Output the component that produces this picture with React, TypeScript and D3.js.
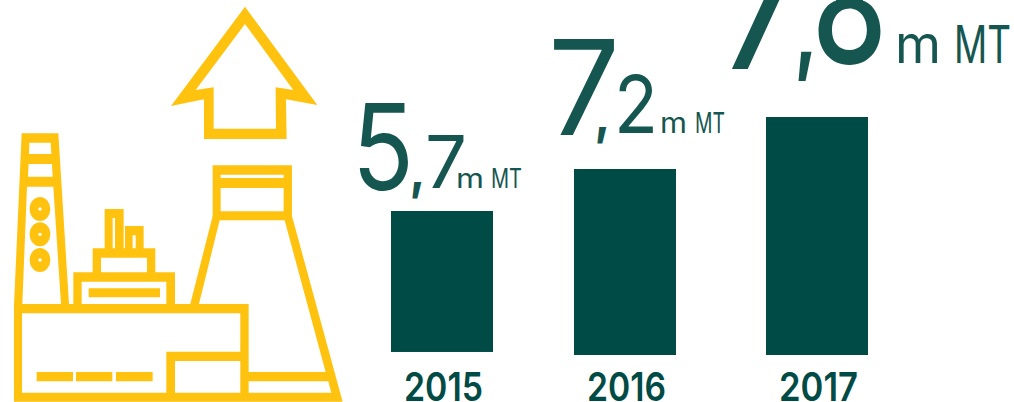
import React from "react";
import * as d3 from "d3";

const categories = ["2015", "2016", "2017"];
const values = [5.7, 7.2, 7.8];
const barBase = [0.12, 0, 0];
const unitLabel = "m MT";

const GREEN = "#004b45";
const TEXT = "#155651";
const YELLOW = "#ffc20e";
const FONT = "Inter, sans-serif";

// the bars in the source are not to a common scale, so the scale is piecewise
const y = d3.scaleLinear().domain([0, 5.7, 7.2, 7.8]).range([355, 211, 169, 117]);
const x = d3.scaleOrdinal<string, number>().domain(categories).range([391, 574, 766]);
const BAR_W = 102;

const fmt = (v: number) => v.toFixed(1).split(".");

const poly = (p: number[]) =>
  "M" + d3.range(0, p.length, 2).map((i) => `${p[i]},${p[i + 1]}`).join("L") + "Z";
const rect = (a: number, b: number, c: number, d: number) => poly([a, b, c, b, c, d, a, d]);

const arrowPath =
  poly([735, 20, 952, 315, 858, 298, 860, 417, 612, 417, 612, 298, 513, 318]) +
  poly([735, 72, 880, 270, 827, 262, 828, 386, 641, 386, 641, 262, 587, 270]);

const plantPath = [
  poly([42, 1205, 42, 915, 65, 400, 175, 400, 207, 912, 220, 912, 220, 817, 278, 817, 278, 745, 314, 745, 314, 627, 371, 627, 371, 745, 375, 745, 375, 678, 431, 678, 431, 745, 466, 745, 466, 817, 525, 817, 525, 912, 571, 912, 638, 648, 638, 496, 876, 496, 876, 648, 1028, 1205]),
  poly([88, 428, 152, 428, 154, 462, 87, 462]),
  poly([86, 492, 156, 492, 158, 530, 84, 530]),
  poly([81, 560, 160, 560, 183, 912, 67, 912]),
  rect(245, 845, 499, 912),
  rect(303, 773, 441, 817),
  rect(338, 654, 345, 745),
  rect(398, 706, 407, 745),
  rect(662, 524, 851, 534),
  rect(662, 564, 851, 634),
  poly([659, 661, 854, 661, 977, 1116, 746, 1116, 746, 912, 597, 912]),
  poly([746, 1144, 985, 1144, 994, 1178, 746, 1178]),
  poly([66, 940, 721, 940, 721, 1055, 499, 1055, 499, 1178, 66, 1178]),
  rect(525, 1083, 721, 1178),
].join("");

const plantBars = rect(266, 865, 480, 892) + rect(110, 1116, 219, 1144) + rect(228, 1116, 337, 1144) + rect(348, 1116, 458, 1144);
const rings = [627, 703, 780];

type T = { t: string; x: number; y: number; w: number; cap: number; weight?: number };
const Txt = ({ t, x, y, w, cap, weight }: T) => (
  <text x={x} y={y} fontSize={cap / 0.727} fontWeight={weight ?? 400} textLength={w} lengthAdjust="spacingAndGlyphs" fill={TEXT} fontFamily={FONT}>
    {t}
  </text>
);

// layout of each value callout: whole part, comma, decimal, unit
const callouts: Record<string, { whole: number[]; comma: number[]; dec: number[]; m: number[]; mt: number[] }> = {
  "2015": { whole: [352, 190, 62, 87], comma: [410, 188, 15, 38], dec: [425, 188, 42, 53], m: [456, 188, 28, 20], mt: [491, 188, 31, 20] },
  "2016": { whole: [548, 135, 72, 96], comma: [595, 133, 15, 38], dec: [614, 133, 44, 58], m: [660, 133, 27, 21], mt: [695, 133, 30, 21] },
  "2017": { whole: [716, 69, 92, 130], comma: [795, 62, 22, 68], dec: [812, 63, 75, 120], m: [895, 63, 46, 38], mt: [954, 63, 57, 38] },
};

export default function App() {
  return (
    <svg width={1014} height={402} style={{ position: "absolute", left: 0, top: 0, background: "#fff" }}>
      <g transform="scale(0.3333)">
        <path d={arrowPath} fill={YELLOW} fillRule="evenodd" />
        <path d={plantPath} fill={YELLOW} fillRule="evenodd" />
        <path d={plantBars} fill={YELLOW} />
        {rings.map((cy) => (
          <g key={cy}>
            <ellipse cx={120} cy={cy} rx={31} ry={36} fill={YELLOW} />
            <circle cx={120} cy={cy} r={5} fill="#fff" />
          </g>
        ))}
      </g>
      {categories.map((c, i) => {
        const [whole, dec] = fmt(values[i]);
        const l = callouts[c];
        return (
          <g key={c}>
            <rect x={x(c)} y={y(values[i])} width={BAR_W} height={y(barBase[i]) - y(values[i])} fill={GREEN} />
            <text x={x(c)! + BAR_W / 2 + 1.5} y={401} textAnchor="middle" fontSize={40} fontWeight={600} fill={GREEN} fontFamily={FONT}
              textLength={79} lengthAdjust="spacingAndGlyphs">
              {c}
            </text>
            <Txt t={whole} x={l.whole[0]} y={l.whole[1]} w={l.whole[2]} cap={l.whole[3]} />
            <Txt t="," x={l.comma[0]} y={l.comma[1]} w={l.comma[2]} cap={l.comma[3]} weight={800} />
            <Txt t={dec} x={l.dec[0]} y={l.dec[1]} w={l.dec[2]} cap={l.dec[3]} weight={c === "2017" ? 500 : 400} />
            <Txt t={unitLabel.split(" ")[0]} x={l.m[0]} y={l.m[1]} w={l.m[2]} cap={l.m[3]} />
            <Txt t={unitLabel.split(" ")[1]} x={l.mt[0]} y={l.mt[1]} w={l.mt[2]} cap={l.mt[3]} />
          </g>
        );
      })}
    </svg>
  );
}
